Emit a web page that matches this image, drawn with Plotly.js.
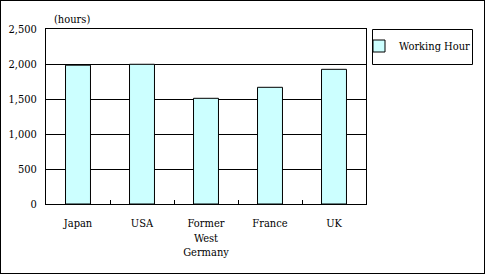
<!DOCTYPE html>
<html><head><meta charset="utf-8">
<script src="https://cdn.plot.ly/plotly-3.0.1.min.js"></script>
<style>
body{margin:0;padding:0;background:#fff;}
#wrap{position:relative;width:485px;height:274px;}
#chart{width:485px;height:274px;}
#frame{position:absolute;left:0;top:0;width:485px;height:274px;box-sizing:border-box;border:1px solid #000;pointer-events:none;}
</style></head>
<body>
<div id="wrap"><div id="chart"></div><div id="frame"></div></div>
<script>
var categories = ["Japan", "USA", "Former<br>West<br>Germany", "France", "UK"];
var workingHours = [1983, 1996, 1510, 1667, 1924];
var seriesName = "Working Hour";
var yTicks = [0, 500, 1000, 1500, 2000, 2500];

var FONT = "DejaVu Serif Condensed";
var FS = 11;
var L = 46, R = 119, T = 29, B = 70, W = 485, H = 274;
var pw = W - L - R, ph = H - T - B;
function px(x){ return (x - L) / pw; }
function py(y){ return (H - B - y) / ph; }

var trace = {
  type: "bar",
  x: categories,
  y: workingHours,
  name: seriesName,
  marker: {color: "#CCFFFF", line: {color: "#000", width: 1}},
  showlegend: true,
  hoverinfo: "skip"
};

var layout = {
  width: W, height: H,
  margin: {l: L, r: R, t: T, b: B, pad: 0, autoexpand: false},
  paper_bgcolor: "#fff", plot_bgcolor: "#fff",
  font: {family: FONT, size: FS, color: "#000"},
  bargap: 0.61,
  showlegend: true,
  legend: {x: px(359), y: py(46), xanchor: "left", yanchor: "middle",
           bgcolor: "rgba(0,0,0,0)", borderwidth: 0, itemwidth: 30,
           font: {family: FONT, size: FS, color: "#000"}},
  xaxis: {
    type: "category", showline: true, linecolor: "#000", linewidth: 1, mirror: true,
    ticks: "inside", tickson: "boundaries", ticklen: 4, tickcolor: "#000",
    ticklabelstandoff: 9, automargin: false,
    showgrid: false, fixedrange: true, tickfont: {family: FONT, size: FS}
  },
  yaxis: {
    range: [0, 2500], tickvals: yTicks, tickformat: ",",
    showline: true, linecolor: "#000", linewidth: 1, mirror: true,
    showgrid: true, gridcolor: "#000", gridwidth: 1, zeroline: false,
    ticks: "", ticklabelstandoff: 6, fixedrange: true, automargin: false,
    tickfont: {family: FONT, size: FS}
  },
  shapes: [
    {type: "rect", xref: "paper", yref: "paper", x0: px(372.5), x1: px(472.5), y0: py(64.5), y1: py(29.5),
     line: {color: "#000", width: 1}, fillcolor: "rgba(0,0,0,0)"}
  ],
  annotations: [
    {text: "(hours)", xref: "paper", yref: "paper", x: px(52), y: 1, xanchor: "left", yanchor: "bottom",
     yshift: 1, showarrow: false, font: {family: FONT, size: FS, color: "#000"}}
  ]
};

Plotly.newPlot("chart", [trace], layout, {displayModeBar: false, staticPlot: true});
</script>
</body></html>
